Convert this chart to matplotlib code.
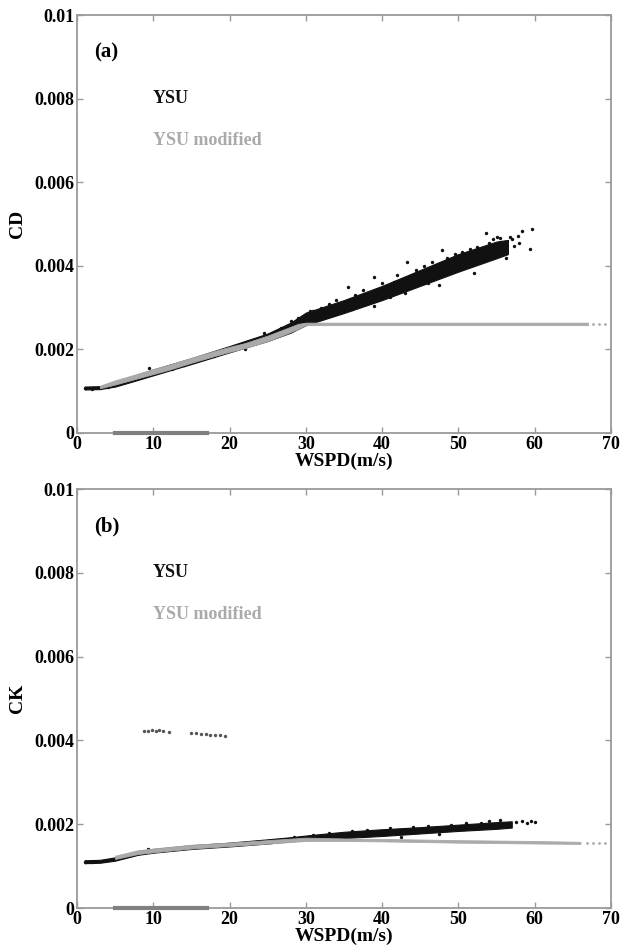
import matplotlib
matplotlib.use("Agg")
from matplotlib import pyplot as plt
from matplotlib.ticker import FuncFormatter, MultipleLocator

plt.rcParams['font.family'] = ['Liberation Serif', 'DejaVu Serif']
plt.rcParams['font.weight'] = 'bold'

# ---- panel (a): CD ----
# YSU band (lower / upper edge of the dense cloud)
cd_ysu_ws = [1, 3, 5, 8, 10, 15, 20, 25, 28, 30, 35, 40, 45, 50, 55, 56.5]
cd_ysu_lo = [0.00104, 0.00105, 0.00111, 0.00127, 0.00138, 0.00165, 0.00193, 0.00220,
             0.00240, 0.00258, 0.00287, 0.00318, 0.00352, 0.00386, 0.00418, 0.00428]
cd_ysu_hi = [0.00111, 0.00112, 0.00122, 0.00140, 0.00152, 0.00179, 0.00208, 0.00238,
             0.00264, 0.00288, 0.00318, 0.00352, 0.00390, 0.00428, 0.00458, 0.00462]
# YSU scattered outliers
cd_ysu_out_ws = [9.5, 24.5, 26.8, 28.0, 31.0, 33.0, 35.5, 38.9, 43.2, 47.8, 53.6, 55.0,
                 57.0, 58.4, 59.7, 59.4, 56.2, 52.0, 47.5, 43.0, 39.0, 22.0, 1.0, 2.0, 3.0, 4.0,
                 29.0, 30.5, 32.0, 34.0, 36.5, 37.5, 40.0, 41.5, 42.0, 44.5, 45.5, 46.5, 48.5,
                 49.5, 50.5, 51.5, 52.5, 54.0, 54.5, 55.5, 56.8, 57.8, 58.0, 36.0, 41.0, 46.0,
                 50.0, 53.0, 57.3, 27.5, 25.5, 23.5, 20.5, 18.0, 12.5, 14.0]
cd_ysu_out_cd = [0.00155, 0.00240, 0.00252, 0.00268, 0.00293, 0.00308, 0.00350, 0.00373,
                 0.00410, 0.00438, 0.00478, 0.00470, 0.00463, 0.00483, 0.00488, 0.00440,
                 0.00418, 0.00383, 0.00354, 0.00335, 0.00305, 0.00200, 0.00107, 0.00106,
                 0.00107, 0.00109, 0.00276, 0.00292, 0.00300, 0.00318, 0.00330, 0.00342,
                 0.00358, 0.00362, 0.00378, 0.00390, 0.00400, 0.00408, 0.00418, 0.00428,
                 0.00432, 0.00440, 0.00446, 0.00455, 0.00463, 0.00466, 0.00470, 0.00472,
                 0.00455, 0.00296, 0.00325, 0.00358, 0.00392, 0.00412, 0.00448, 0.00250,
                 0.00230, 0.00222, 0.00200, 0.00184, 0.00152, 0.00162]
# YSU modified band
cd_mod_ws = [3, 5, 8, 10, 12, 15, 18, 20, 22, 25, 27, 29, 30, 40, 50, 60, 67]
cd_mod_lo = [0.00107, 0.00116, 0.00131, 0.00141, 0.00151, 0.00168, 0.00184, 0.00194,
             0.00203, 0.00220, 0.00234, 0.00249, 0.00258, 0.00258, 0.00258, 0.00258, 0.00258]
cd_mod_hi = [0.00113, 0.00126, 0.00142, 0.00153, 0.00163, 0.00180, 0.00196, 0.00206,
             0.00215, 0.00233, 0.00247, 0.00261, 0.00264, 0.00264, 0.00264, 0.00264, 0.00264]
cd_mod_tail_ws = [67.6, 68.4, 69.2]
cd_mod_tail_cd = [0.00261, 0.00261, 0.00261]

# ---- panel (b): CK ----
ck_ysu_ws = [1, 3, 5, 8, 10, 15, 20, 25, 28, 30, 35, 40, 45, 50, 55, 57]
ck_ysu_lo = [0.00107, 0.00108, 0.00113, 0.00127, 0.00132, 0.00141, 0.00147, 0.00154,
             0.00159, 0.00162, 0.00167, 0.00172, 0.00178, 0.00184, 0.00189, 0.00192]
ck_ysu_hi = [0.00114, 0.00115, 0.00121, 0.00136, 0.00141, 0.00150, 0.00156, 0.00164,
             0.00169, 0.00173, 0.00182, 0.00188, 0.00193, 0.00199, 0.00205, 0.00207]
ck_ysu_out_ws = [9.3, 28.5, 33.0, 38.0, 44.0, 49.0, 53.0, 56.5, 57.5, 58.3, 59.0, 59.5, 60.0,
                 1.0, 2.0, 31.0, 36.0, 41.0, 46.0, 51.0, 54.0, 55.5, 47.5, 42.5]
ck_ysu_out_ck = [0.00142, 0.00170, 0.00178, 0.00186, 0.00194, 0.00199, 0.00204, 0.00198,
                 0.00205, 0.00207, 0.00203, 0.00208, 0.00206, 0.00111, 0.00110, 0.00175,
                 0.00184, 0.00190, 0.00196, 0.00202, 0.00207, 0.00209, 0.00176, 0.00170]
ck_mod_ws = [5, 8, 10, 15, 20, 25, 30, 35, 40, 50, 60, 66]
ck_mod_lo = [0.00117, 0.00129, 0.00133, 0.00142, 0.00148, 0.00154, 0.00160, 0.00160,
             0.00159, 0.00156, 0.00154, 0.00153]
ck_mod_hi = [0.00125, 0.00138, 0.00142, 0.00151, 0.00156, 0.00162, 0.00168, 0.00166,
             0.00165, 0.00162, 0.00160, 0.00158]
ck_mod_tail_ws = [66.8, 67.6, 68.4, 69.2]
ck_mod_tail_ck = [0.00155, 0.00155, 0.00155, 0.00155]
# detached cluster near 0.0042
ck_high_ws = [8.8, 9.3, 9.8, 10.3, 10.8, 11.3, 12.0, 14.9, 15.6, 16.2, 16.9, 17.5, 18.1, 18.7, 19.4]
ck_high_ck = [0.00422, 0.00423, 0.00424, 0.00423, 0.00424, 0.00422, 0.00421, 0.00418,
              0.00417, 0.00415, 0.00416, 0.00414, 0.00413, 0.00412, 0.00410]

# grey stub lying on the x axis
stub_ws = [5, 17]
stub_val = [0, 0]

BLACK = '#111111'
GREY = '#aaaaaa'
FRAME = '#9a9a9a'


def style_axes(ax, ylabel):
    ax.set_xlim(0, 70)
    ax.set_ylim(0, 0.01)
    ax.xaxis.set_major_locator(MultipleLocator(10))
    ax.yaxis.set_major_locator(MultipleLocator(0.002))
    ax.yaxis.set_major_formatter(FuncFormatter(lambda v, p: '%g' % round(v, 4)))
    ax.tick_params(direction='in', length=4, width=1, color=FRAME, top=True, right=True,
                   labelsize=13, pad=2)
    for lab in ax.get_xticklabels() + ax.get_yticklabels():
        lab.set_fontweight('bold')
    for s in ax.spines.values():
        s.set_color(FRAME)
        s.set_linewidth(1.3)
    ax.set_xlabel('WSPD(m/s)', fontsize=14, fontweight='bold', labelpad=0)
    ax.set_ylabel(ylabel, fontsize=14, fontweight='bold', labelpad=6)


fig = plt.figure(figsize=(6.23, 9.52), dpi=100)
ax1 = fig.add_axes([0.1236, 0.5452, 0.857, 0.439])
ax2 = fig.add_axes([0.1236, 0.0462, 0.857, 0.4401])

# panel a
ax1.fill_between(cd_ysu_ws, cd_ysu_lo, cd_ysu_hi, color=BLACK, lw=0.8, zorder=2)
ax1.scatter(cd_ysu_out_ws, cd_ysu_out_cd, s=6, color=BLACK, lw=0, zorder=2)
ax1.fill_between(cd_mod_ws, cd_mod_lo, cd_mod_hi, color=GREY, lw=0.6, zorder=3)
ax1.scatter(cd_mod_tail_ws, cd_mod_tail_cd, s=4, color=GREY, lw=0, zorder=3)
ax1.plot(stub_ws, stub_val, color='#808080', lw=3, clip_on=False, zorder=4)
ax1.text(2.3, 0.0091, '(a)', fontsize=15, fontweight='bold', va='center')
ax1.text(9.9, 0.0080, 'YSU', fontsize=13, fontweight='bold', va='center', color=BLACK)
ax1.text(9.9, 0.0070, 'YSU modified', fontsize=13, fontweight='bold', va='center', color=GREY)
style_axes(ax1, 'CD')

# panel b
ax2.fill_between(ck_ysu_ws, ck_ysu_lo, ck_ysu_hi, color=BLACK, lw=0.8, zorder=2)
ax2.scatter(ck_ysu_out_ws, ck_ysu_out_ck, s=6, color=BLACK, lw=0, zorder=2)
ax2.fill_between(ck_mod_ws, ck_mod_lo, ck_mod_hi, color=GREY, lw=0.6, zorder=3)
ax2.scatter(ck_mod_tail_ws, ck_mod_tail_ck, s=4, color=GREY, lw=0, zorder=3)
ax2.scatter(ck_high_ws, ck_high_ck, s=6, color='#555555', lw=0, zorder=3)
ax2.plot(stub_ws, stub_val, color='#808080', lw=3, clip_on=False, zorder=4)
ax2.text(2.3, 0.0091, '(b)', fontsize=15, fontweight='bold', va='center')
ax2.text(9.9, 0.0080, 'YSU', fontsize=13, fontweight='bold', va='center', color=BLACK)
ax2.text(9.9, 0.0070, 'YSU modified', fontsize=13, fontweight='bold', va='center', color=GREY)
style_axes(ax2, 'CK')

fig.savefig('out.png', dpi=100)
